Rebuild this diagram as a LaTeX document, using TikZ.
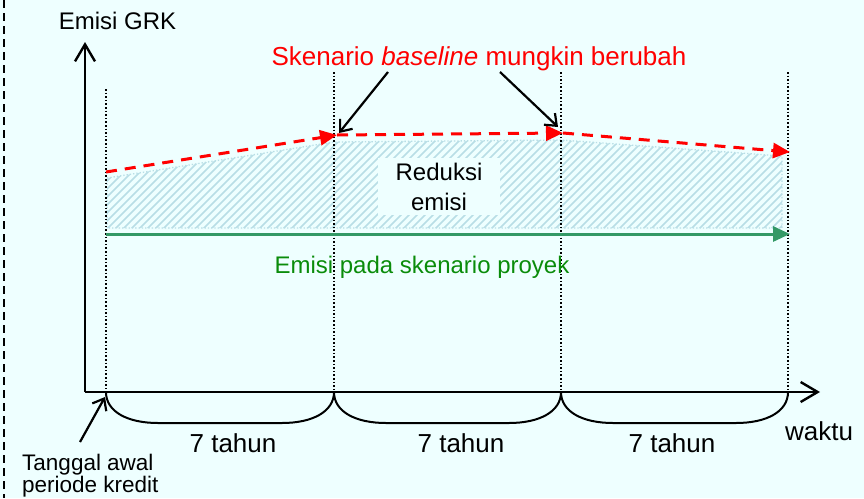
\documentclass[tikz,border=0pt]{standalone}
\usepackage{fontspec}
\setmainfont{Liberation Sans}
\usetikzlibrary{arrows.meta}
\definecolor{bgc}{RGB}{238,255,255}
\definecolor{redc}{RGB}{255,0,0}
\definecolor{linegreen}{RGB}{51,153,102}
\definecolor{textgreen}{RGB}{10,140,10}
\definecolor{hatchc}{RGB}{184,222,230}
\tikzset{
  axisline/.style={line width=2.4pt, -{Straight Barb[length=17pt,width=20pt,line width=2.4pt]}},
  vdot/.style={line width=1.6pt, dash pattern=on 1.6pt off 2pt},
  redline/.style={redc, line width=3pt, dash pattern=on 11pt off 8pt, -{Triangle[length=17pt,width=15pt]}},
  greenline/.style={linegreen, line width=3pt, -{Triangle[length=17pt,width=15pt]}},
  pointer/.style={line width=2.2pt, -{Straight Barb[length=10pt,width=16pt,line width=2.2pt]}},
  bracestyle/.style={line width=2pt},
  lbl/.style={inner sep=0pt, font=\fontsize{24}{28}\selectfont},
  biglbl/.style={inner sep=0pt, font=\fontsize{26}{30}\selectfont},
  smalllbl/.style={inner sep=0pt, anchor=base west, font=\fontsize{22.5}{24}\selectfont},
}
\begin{document}
\begin{tikzpicture}[x=1pt,y=-1pt]
\useasboundingbox (0,0) rectangle (864,498);
\fill[bgc] (0,0) rectangle (864,498);
% left dashed frame line
\draw[line width=1.6pt, dash pattern=on 8pt off 5pt] (4,0) -- (4,498);

% hatched reduction area
\begin{scope}
  \clip (107,178) -- (334,142) -- (561,140) -- (782,156) -- (782,228) -- (107,228) -- cycle;
  \foreach \i in {0,8,...,800} {\draw[hatchc, line width=1.6pt] (\i,232) -- ++(100,-100);}
\end{scope}
\draw[hatchc, line width=1.3pt, dash pattern=on 1.3pt off 2pt] (107,178) -- (334,142) -- (561,140) -- (782,156) -- (782,228) -- (107,228) -- cycle;

% coordinates
\coordinate (O) at (85,392);
\coordinate (ytip) at (85,42);
\coordinate (xtip) at (820,392);
\coordinate (t0) at (106,392);
\coordinate (t1) at (334,392);
\coordinate (t2) at (561,392);
\coordinate (t3) at (788,392);
\coordinate (v0) at (106,89);
\coordinate (v1) at (334,72);
\coordinate (v2) at (561,72);
\coordinate (v3) at (788,72);
\coordinate (r0) at (106,172);
\coordinate (r1) at (337,135);
\coordinate (r2) at (563,133);
\coordinate (r3) at (790,152);
\coordinate (g0) at (106,234);
\coordinate (g1) at (790,234);

% dotted verticals
\draw[vdot] (v0) -- (t0);
\draw[vdot] (v1) -- (t1);
\draw[vdot] (v2) -- (t2);
\draw[vdot] (v3) -- (t3);

% baseline scenario (red dashed)
\draw[redline] (r0) -- (r1);
\draw[redline] (r1) -- (r2);
\draw[redline] (r2) -- (r3);

% project scenario (green)
\draw[greenline] (g0) -- (g1);

% axes
\draw[axisline] (O) -- (ytip);
\draw[axisline] (O) -- (xtip);

% braces
\draw[bracestyle] (t0) .. controls (106,412) and (128,423) .. (158,423) -- (282,423) .. controls (312,423) and (334,412) .. (t1);
\draw[bracestyle] (t1) .. controls (334,412) and (356,423) .. (386,423) -- (509,423) .. controls (539,423) and (561,412) .. (t2);
\draw[bracestyle] (t2) .. controls (561,412) and (583,423) .. (613,423) -- (736,423) .. controls (766,423) and (788,412) .. (t3);

% texts
\node[lbl, anchor=base] (ylab) at (117.5,29.3) {Emisi GRK};
\node[biglbl, anchor=base, text=redc] (redlab) at (479,65) {Skenario \textit{baseline} mungkin berubah};
\node[lbl, fill=bgc, align=center, minimum width=122pt, minimum height=57pt] (red) at (439,186.5) {Reduksi\\[2pt]emisi};
\node[lbl, anchor=base, text=textgreen] (greenlab) at (422,273) {Emisi pada skenario proyek};
\node[biglbl, anchor=base] (y1) at (233,452) {7 tahun};
\node[biglbl, anchor=base] (y2) at (461,452) {7 tahun};
\node[biglbl, anchor=base] (y3) at (672,452) {7 tahun};
\node[biglbl, anchor=base] (xlab) at (819,440) {waktu};
\node[smalllbl] (tgl1) at (22,470.5) {Tanggal awal};
\node[smalllbl] (tgl2) at (22,492) {periode kredit};

% pointers
\coordinate (p1s) at (388,72);
\coordinate (p1e) at (339,133);
\coordinate (p2s) at (500,72);
\coordinate (p2e) at (558,127);
\coordinate (p3s) at (80,442);
\coordinate (p3e) at (105,397);
\draw[pointer] (p1s) -- (p1e);
\draw[pointer] (p2s) -- (p2e);
\draw[pointer] (p3s) -- (p3e);
\end{tikzpicture}
\end{document}
